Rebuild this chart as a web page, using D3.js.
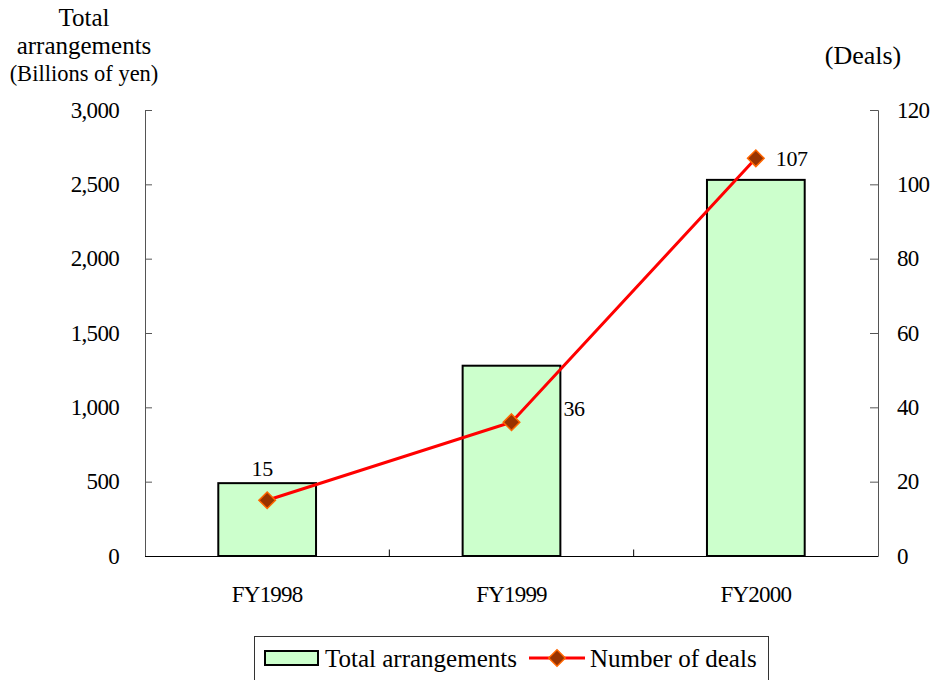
<!DOCTYPE html>
<html>
<head>
<meta charset="utf-8">
<script src="https://cdn.jsdelivr.net/npm/d3@7"></script>
<style>
  html, body { margin: 0; padding: 0; background: #fff; }
  svg text { font-family: "Liberation Serif", "Times New Roman", serif; fill: #000; }
</style>
</head>
<body>
<svg id="chart" width="935" height="680"></svg>
<script>
// Fiscal years on the category axis
const categories = ["FY1998", "FY1999", "FY2000"];
// Total arrangements, billions of yen (bars, left axis)
const totalArrangements = [490, 1280, 2530];
// Number of deals (line, right axis)
const numberOfDeals = [15, 36, 107];
// Axis tick values
const leftTicks = [0, 500, 1000, 1500, 2000, 2500, 3000];
const rightTicks = [0, 20, 40, 60, 80, 100, 120];
// Where each deal label sits relative to its marker
const dealLabelSide = ["above", "right", "right"];

const svg = d3.select("#chart");
const plot = { left: 145, right: 878, top: 110, bottom: 556 };
const FS = 22;   // data labels
const TFS = 23;  // tick labels

const x = d3.scaleBand().domain(categories).range([plot.left, plot.right]).paddingInner(0).paddingOuter(0);
const yL = d3.scaleLinear().domain([0, 3000]).range([plot.bottom, plot.top]);
const yR = d3.scaleLinear().domain([0, 120]).range([plot.bottom, plot.top]);

const barW = x.bandwidth() * 0.4;
const cx = d => x(d) + x.bandwidth() / 2;

// Bars
svg.append("g").selectAll("rect")
  .data(categories)
  .join("rect")
  .attr("x", (d) => cx(d) - barW / 2)
  .attr("y", (d, i) => yL(totalArrangements[i]))
  .attr("width", barW)
  .attr("height", (d, i) => yL(0) - yL(totalArrangements[i]))
  .attr("fill", "#ccffcc")
  .attr("stroke", "#000")
  .attr("stroke-width", 2);

// Left axis
const leftAxis = d3.axisRight(yL).tickValues(leftTicks).tickSize(7).tickFormat("");
const gL = svg.append("g").attr("transform", `translate(${plot.left},0)`).call(leftAxis);
gL.select(".domain").attr("stroke", "#555");
gL.selectAll(".tick line").attr("stroke", "#555");
svg.append("g").selectAll("text")
  .data(leftTicks)
  .join("text")
  .attr("x", 119)
  .attr("y", d => yL(d))
  .attr("dy", "0.34em")
  .attr("text-anchor", "end")
  .attr("font-size", TFS)
  .attr("letter-spacing", "-0.7")
  .text(d3.format(","));

// Right axis
const rightAxis = d3.axisLeft(yR).tickValues(rightTicks).tickSize(8).tickFormat("");
const gR = svg.append("g").attr("transform", `translate(${plot.right},0)`).call(rightAxis);
gR.select(".domain").attr("stroke", "#555");
gR.selectAll(".tick line").attr("stroke", "#555");
svg.append("g").selectAll("text")
  .data(rightTicks)
  .join("text")
  .attr("x", 897)
  .attr("y", d => yR(d))
  .attr("dy", "0.34em")
  .attr("text-anchor", "start")
  .attr("font-size", TFS)
  .attr("letter-spacing", "-0.7")
  .text(d => d);

// Category axis: ticks at band boundaries
const bottom = svg.append("g").attr("transform", `translate(0,${plot.bottom + 0.5})`);
bottom.append("line")
  .attr("x1", plot.left).attr("x2", plot.right)
  .attr("stroke", "#000");
bottom.selectAll("line.tk")
  .data(categories.slice(1))
  .join("line")
  .attr("class", "tk")
  .attr("x1", d => x(d)).attr("x2", d => x(d))
  .attr("y1", 0).attr("y2", -7)
  .attr("stroke", "#000");
bottom.selectAll("text")
  .data(categories)
  .join("text")
  .attr("x", d => cx(d))
  .attr("y", 45)
  .attr("text-anchor", "middle")
  .attr("font-size", TFS)
  .attr("letter-spacing", "-0.8")
  .text(d => d);

// Deals line
const line = d3.line()
  .x((d, i) => cx(categories[i]))
  .y(d => yR(d));
svg.append("path")
  .datum(numberOfDeals)
  .attr("d", line)
  .attr("fill", "none")
  .attr("stroke", "#ff0000")
  .attr("stroke-width", 3);

const diamond = d3.symbol().type(d3.symbolDiamond2).size(175);
svg.append("g").selectAll("path")
  .data(numberOfDeals)
  .join("path")
  .attr("d", diamond)
  .attr("transform", (d, i) => `translate(${cx(categories[i])},${yR(d)})`)
  .attr("fill", "#993300")
  .attr("stroke", "#ff6600")
  .attr("stroke-width", 1.5);

// Deal labels
svg.append("g").selectAll("text")
  .data(numberOfDeals)
  .join("text")
  .attr("x", (d, i) => dealLabelSide[i] === "above" ? cx(categories[i]) - 5 : cx(categories[i]) + 52 - (i === 2 ? 32 : 0))
  .attr("y", (d, i) => dealLabelSide[i] === "above" ? yR(d) - 24 : yR(d) + (i === 1 ? -6 : 8))
  .attr("text-anchor", (d, i) => dealLabelSide[i] === "above" ? "middle" : "start")
  .attr("font-size", FS)
  .attr("letter-spacing", "-0.4")
  .text(d => d);

// Axis titles
const leftTitle = svg.append("text").attr("text-anchor", "middle");
leftTitle.append("tspan").attr("x", 84).attr("y", 26).attr("font-size", 25).text("Total");
leftTitle.append("tspan").attr("x", 84).attr("y", 54).attr("font-size", 25).text("arrangements");
leftTitle.append("tspan").attr("x", 84).attr("y", 81).attr("font-size", 22.5).text("(Billions of yen)");

svg.append("text")
  .attr("x", 863).attr("y", 64)
  .attr("text-anchor", "middle")
  .attr("font-size", 26)
  .text("(Deals)");

// Legend
const LFS = 25;
const lg = svg.append("g");
lg.append("rect")
  .attr("x", 254.5).attr("y", 636.5)
  .attr("width", 514).attr("height", 60)
  .attr("fill", "#fff")
  .attr("stroke", "#333")
  .attr("stroke-width", 1);
lg.append("rect")
  .attr("x", 265).attr("y", 651)
  .attr("width", 53).attr("height", 14)
  .attr("fill", "#ccffcc")
  .attr("stroke", "#000")
  .attr("stroke-width", 2);
lg.append("text")
  .attr("x", 325).attr("y", 667)
  .attr("font-size", LFS)
  .text("Total arrangements");
lg.append("line")
  .attr("x1", 529).attr("x2", 585)
  .attr("y1", 658).attr("y2", 658)
  .attr("stroke", "#ff0000")
  .attr("stroke-width", 3);
lg.append("path")
  .attr("d", diamond)
  .attr("transform", "translate(557,658)")
  .attr("fill", "#993300")
  .attr("stroke", "#ff6600")
  .attr("stroke-width", 1.5);
lg.append("text")
  .attr("x", 590).attr("y", 667)
  .attr("font-size", LFS)
  .text("Number of deals");
</script>
</body>
</html>
